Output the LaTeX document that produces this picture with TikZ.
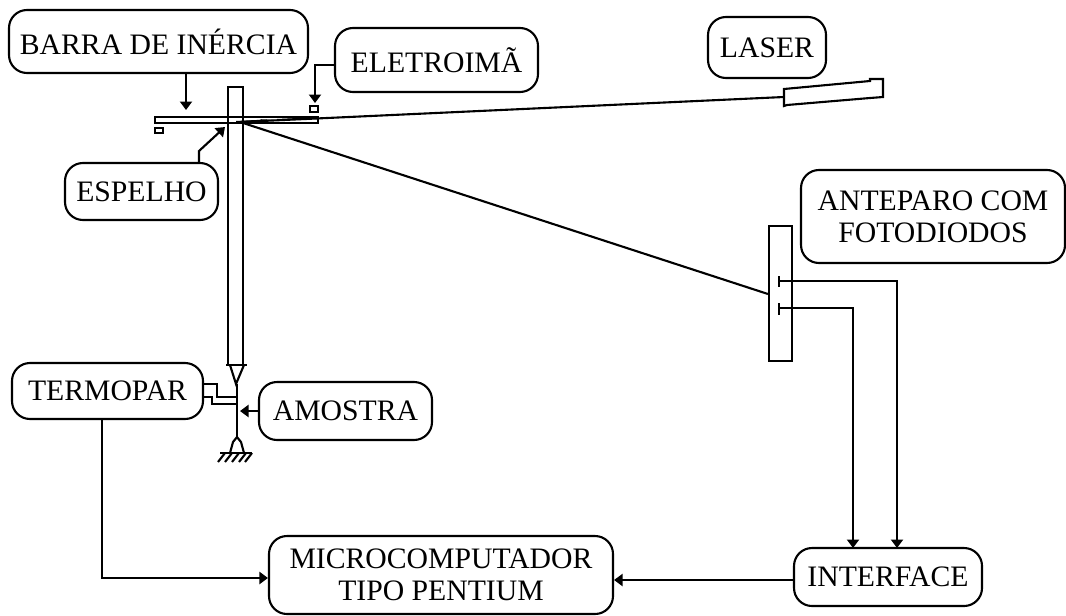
\documentclass[tikz,border=0pt]{standalone}
\usepackage{fontspec}
\setmainfont{Liberation Serif}
\usepackage{tikz}
\usetikzlibrary{arrows.meta}
\tikzset{
  rotulo/.style={draw, rounded corners=0.18cm, align=center, inner sep=0pt},
  peca/.style={draw, inner sep=0pt},
  seta/.style={-{Triangle[length=0.85mm, width=1.2mm]}}
}

\begin{document}
\begin{tikzpicture}[x=1cm, y=-1cm, line width=0.6pt, font=\fontsize{8.45}{9.1}\selectfont]
  \useasboundingbox (0,0) rectangle (10.66,6.15);
  % rotulos
  \node[rotulo, minimum width=2.99cm, minimum height=0.63cm] (rotbarra) at (1.585,0.415) {BARRA DE INÉRCIA};
  \node[rotulo, minimum width=2.03cm, minimum height=0.64cm] (rotima) at (4.365,0.60) {ELETROIMÃ};
  \node[rotulo, minimum width=1.18cm, minimum height=0.61cm] (rotlaser) at (7.67,0.475) {LASER};
  \node[rotulo, minimum width=1.53cm, minimum height=0.57cm] (rotespelho) at (1.415,1.915) {ESPELHO};
  \node[rotulo, minimum width=1.91cm, minimum height=0.56cm] (rottermopar) at (1.075,3.91) {TERMOPAR};
  \node[rotulo, minimum width=1.73cm, minimum height=0.58cm] (rotamostra) at (3.455,4.11) {AMOSTRA};
  \node[rotulo, minimum width=2.64cm, minimum height=0.93cm] (rotanteparo) at (9.33,2.165) {ANTEPARO COM\\FOTODIODOS};
  \node[rotulo, minimum width=1.88cm, minimum height=0.58cm] (rotinterface) at (8.88,5.77) {INTERFACE};
  \node[rotulo, minimum width=3.44cm, minimum height=0.78cm] (rotmicro) at (4.41,5.75) {MICROCOMPUTADOR\\TIPO PENTIUM};
  % barra, haste e pecas
  \node[peca, minimum width=1.63cm, minimum height=0.065cm] (barra) at (2.365,1.20) {};
  \node[peca, minimum width=0.08cm, minimum height=0.055cm] (imaima) at (3.14,1.09) {};
  \node[peca, minimum width=0.08cm, minimum height=0.055cm] (imabarra) at (1.59,1.305) {};
  \node[peca, minimum width=0.155cm, minimum height=2.78cm] (haste) at (2.355,2.26) {};
  \node[peca, minimum width=0.23cm, minimum height=1.35cm] (anteparo) at (7.805,2.935) {};
  \draw (7.84,0.89) -- (8.70,0.81) -- (8.70,0.79) -- (8.83,0.79) -- (8.83,0.97) -- (8.70,0.98) -- (7.87,1.05) -- (7.84,1.06) -- cycle;
  \coordinate (laser) at (7.84,0.97);
  \coordinate (reflexo) at (2.40,1.22);
  \coordinate (fundo) at (2.37,4.37);
  \coordinate (ponta) at (2.37,3.84);
  % ponta da haste e amostra
  \draw (2.26,3.65) -- (2.47,3.65);
  \draw (2.30,3.65) -- (2.36,3.84) -- (2.44,3.65);
  \draw (ponta) -- (fundo);
  \draw (fundo) -- (2.33,4.42) -- (2.30,4.53);
  \draw (fundo) -- (2.41,4.42) -- (2.44,4.53);
  \draw (2.20,4.53) -- (2.52,4.53);
  \draw (2.25,4.53) -- (2.18,4.62) (2.32,4.53) -- (2.25,4.62) (2.39,4.53) -- (2.32,4.62) (2.46,4.53) -- (2.39,4.62) (2.52,4.53) -- (2.45,4.62);
  % feixe
  \draw (laser) -- (reflexo);
  \draw (reflexo) -- (anteparo.west |- 0,2.94);
  \fill (2.36,1.21) -- (3.18,1.17) -- (3.18,1.19) -- (2.62,1.19) -- (2.50,1.23) -- (2.36,1.22) -- cycle;
  % fotodiodos
  \coordinate (foto1) at (7.79,2.81);
  \coordinate (foto2) at (7.79,3.08);
  \draw (7.79,2.76) -- (7.79,2.87) (7.79,3.03) -- (7.79,3.15);
  % ligacoes
  \coordinate (a1) at (1.86,1.10);
  \coordinate (a2) at (3.15,0.65);
  \coordinate (a3) at (2.25,1.27);
  \coordinate (a4) at (1.99,1.51);
  \draw[seta] (a1 |- rotbarra.south) -- (a1);
  \draw[seta] (rotima.west |- a2) -- (a2) -- (3.15,1.03);
  \draw[seta] (a4 |- rotespelho.north) -- (a4) -- (a3);
  \draw[seta] (rotamostra.west) -- (2.40,4.11);
  \draw (rottermopar.east |- 0,3.84) -- (2.17,3.84) -- (2.17,3.97) -- (2.36,3.97);
  \draw (rottermopar.east |- 0,3.97) -- (2.12,3.97) -- (2.12,4.04) -- (2.36,4.04);
  \draw[seta] (foto1) -- (8.97,2.81) -- (8.97,5.48);
  \draw[seta] (foto2) -- (8.53,3.08) -- (8.53,5.48);
  \draw[seta] (rotinterface.west |- 0,5.80) -- (rotmicro.east |- 0,5.80);
  \draw[seta] (1.02,4.19) -- (1.02,5.78) -- (rotmicro.west |- 0,5.78);
\end{tikzpicture}
\end{document}
